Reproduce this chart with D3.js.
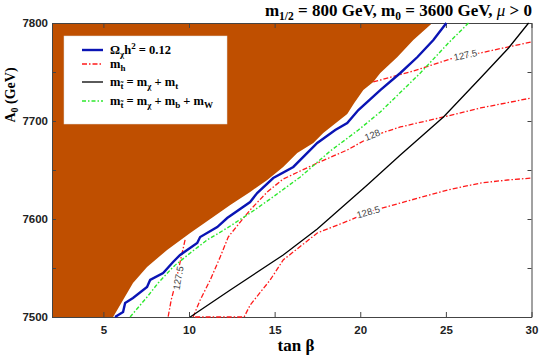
<!DOCTYPE html>
<html>
<head>
<meta charset="utf-8">
<script src="https://cdn.jsdelivr.net/npm/d3@7"></script>
<style>
  body { margin: 0; background: #fff; }
  svg { display: block; font-family: "Liberation Serif", "Times New Roman", serif; }
  .axis text { font-weight: bold; font-size: 11.5px; fill: #222; }
  .axis path, .axis line { stroke: #444; }
</style>
</head>
<body>
<script>
const width = 540, height = 357;
const margin = {left: 52, right: 8.5, top: 23, bottom: 40};

// tan beta, A0 pairs
const excludedEdge = [
  [5.57, 7500], [6.15, 7517.3], [6.73, 7534.7], [7.55, 7551], [8.72, 7568.4],
  [10.07, 7585.7], [11.41, 7602], [12.41, 7614.3], [13.57, 7627.6], [14.57, 7639.8],
  [15.50, 7653.1], [16.32, 7667.3], [17.26, 7677.6], [17.84, 7687.8], [19.24, 7707.1],
  [19.65, 7718.4], [20.18, 7731.6], [20.76, 7739.8], [21.17, 7749], [22.17, 7765.3],
  [23.10, 7782.7], [24.21, 7800]
];
const relic = [
  [5.68, 7500], [6.15, 7505.1], [6.27, 7514.3], [6.73, 7519.4], [7.55, 7530.6],
  [7.73, 7537.8], [8.49, 7544.9], [9.07, 7556.1], [9.48, 7563.3], [10.48, 7575.5],
  [10.65, 7581.6], [11.65, 7591.8], [12.23, 7601], [13.57, 7617.3], [13.98, 7626.5],
  [14.92, 7641.8], [16.09, 7653.1], [17.49, 7677.6], [18.54, 7690.8], [19.24, 7698],
  [19.89, 7711.2], [21.17, 7731.6], [22.34, 7749], [23.34, 7765.3], [24.27, 7782.7],
  [25.03, 7800]
];
const stopTop = [
  [10.07, 7500], [12.41, 7527.6], [15.50, 7563.3], [17.49, 7589.8], [20.41, 7634.7],
  [22.34, 7665.3], [24.86, 7704.1], [27.02, 7743.9], [28.66, 7774.5], [29.83, 7800]
];
const stopBW = [
  [6.56, 7500], [7.55, 7520.4], [8.20, 7534.7], [9.07, 7551], [10.07, 7565.3],
  [11.06, 7578.6], [12.23, 7590.8], [13.57, 7606.1], [14.74, 7620.4], [16.50, 7642.9],
  [18.25, 7669.4], [19.89, 7690.8], [21.17, 7709.2], [23.51, 7749], [25.15, 7779.6],
  [26.32, 7800]
];
const mh1275a = [
  [9.77, 7578.6], [9.48, 7556.1], [9.19, 7532.7], [8.96, 7517.3], [8.78, 7500]
];
const mh1275b = [
  [20.76, 7739.8], [23.10, 7751], [25.27, 7763.3], [27.02, 7769.4], [28.60, 7775.5], [30, 7780.6]
];
const mh128 = [
  [10.24, 7500], [10.65, 7517.3], [11.24, 7537.8], [11.82, 7561.2], [12.29, 7581.6],
  [12.99, 7596.9], [13.57, 7609.2], [14.57, 7627.6], [15.50, 7640.8], [17.49, 7657.1],
  [19.24, 7670.4], [20.71, 7684.7], [22.34, 7693.9], [24.86, 7704.1], [27.02, 7713.3],
  [30, 7723.5]
];
const mh1285 = [
  [10.36, 7500], [13.22, 7500], [13.57, 7512.2], [14.74, 7537.8], [15.50, 7558.2],
  [17.49, 7585.7], [19.42, 7599], [20.47, 7607.1], [22.34, 7616.3], [25.09, 7629.6],
  [27.02, 7636.7], [28.60, 7639.8], [30, 7641.8]
];
const contourLabels = [
  {text: '127.5', x: 26.14, y: 7767.3, angle: -12},
  {text: '128', x: 20.71, y: 7685.7, angle: -22},
  {text: '128.5', x: 20.47, y: 7607.1, angle: -16},
  {text: '127.5', x: 9.37, y: 7539.8, angle: -80}
];
const xTicks = [5, 10, 15, 20, 25, 30];
const yTicks = [7500, 7600, 7700, 7800];
const yMinor = [7550, 7650, 7750];

const x = d3.scaleLinear().domain([2, 30]).range([margin.left, width - margin.right]);
const y = d3.scaleLinear().domain([7500, 7800]).range([height - margin.bottom, margin.top]);

const svg = d3.select('body').append('svg').attr('width', width).attr('height', height);

svg.append('clipPath').attr('id', 'plotclip')
  .append('rect')
  .attr('x', x(2)).attr('y', y(7800) - 1)
  .attr('width', x(30) - x(2)).attr('height', y(7500) - y(7800) + 2);

const line = d3.line().x(d => x(d[0])).y(d => y(d[1]));

// excluded (brown) region, upper left
const region = [[2, 7500]].concat(excludedEdge, [[2, 7800]]);
svg.append('g').attr('clip-path', 'url(#plotclip)')
  .append('path')
  .attr('d', line(region) + 'Z')
  .attr('fill', '#bf4f00');

// axes
svg.append('g').attr('class', 'axis')
  .attr('transform', `translate(0,${y(7500)})`)
  .call(d3.axisBottom(x).tickValues(xTicks).tickSize(-5).tickPadding(9).tickSizeOuter(0));
svg.append('g').attr('class', 'axis')
  .attr('transform', `translate(0,${y(7800)})`)
  .call(d3.axisTop(x).tickValues(xTicks).tickSize(-5).tickFormat('').tickSizeOuter(0));
svg.append('g').attr('class', 'axis')
  .attr('transform', `translate(${x(2)},0)`)
  .call(d3.axisLeft(y).tickValues(yTicks.concat(yMinor)).tickSize(-4).tickPadding(4).tickSizeOuter(0)
    .tickFormat(d => yTicks.includes(d) ? d : ''));
svg.append('g').attr('class', 'axis')
  .attr('transform', `translate(${x(30)},0)`)
  .call(d3.axisRight(y).tickValues(yTicks.concat(yMinor)).tickSize(-4).tickFormat('').tickSizeOuter(0));

// contours drawn over the frame, like the original
const plot = svg.append('g').attr('clip-path', 'url(#plotclip)');

const red = {stroke: '#ff1a1a', width: 1.3, dash: '5,2,1.5,2'};
[mh1275a, mh1275b, mh128, mh1285].forEach(pts => {
  plot.append('path').attr('d', line(pts))
    .attr('fill', 'none').attr('stroke', red.stroke)
    .attr('stroke-width', red.width).attr('stroke-dasharray', red.dash);
});

plot.append('path').attr('d', line(stopTop))
  .attr('fill', 'none').attr('stroke', '#000').attr('stroke-width', 1.3);

plot.append('path').attr('d', line(stopBW))
  .attr('fill', 'none').attr('stroke', '#2ee82e').attr('stroke-width', 1.4)
  .attr('stroke-dasharray', '4,2,1.5,2');

plot.append('path').attr('d', line(relic))
  .attr('fill', 'none').attr('stroke', '#0a14b4').attr('stroke-width', 2.4);

// contour labels
plot.selectAll('text.clabel').data(contourLabels).enter().append('text')
  .attr('class', 'clabel')
  .attr('transform', d => `translate(${x(d.x)},${y(d.y)}) rotate(${d.angle})`)
  .attr('text-anchor', 'middle').attr('dy', '0.35em')
  .attr('font-family', 'Liberation Sans, Arial, sans-serif')
  .attr('font-size', 9.5).attr('fill', '#444')
  .attr('stroke', '#fff').attr('stroke-width', 3).attr('paint-order', 'stroke')
  .text(d => d.text);

// axis titles
svg.append('text')
  .attr('x', 296).attr('y', 351)
  .attr('text-anchor', 'middle')
  .attr('font-weight', 'bold').attr('font-size', 17)
  .text('tan β');

const yl = svg.append('text')
  .attr('transform', 'translate(15,95) rotate(-90)')
  .attr('text-anchor', 'middle')
  .attr('font-weight', 'bold').attr('font-size', 14);
yl.append('tspan').text('A');
yl.append('tspan').attr('font-size', 10).attr('dy', 3).text('0');
yl.append('tspan').attr('dy', -3).text(' (GeV)');

// title
const title = svg.append('text')
  .attr('x', 532).attr('y', 16)
  .attr('text-anchor', 'end')
  .attr('font-weight', 'bold').attr('font-size', 17);
title.append('tspan').text('m');
title.append('tspan').attr('font-size', 11.5).attr('dy', 4).text('1/2');
title.append('tspan').attr('dy', -4).text(' = 800 GeV, m');
title.append('tspan').attr('font-size', 11.5).attr('dy', 4).text('0');
title.append('tspan').attr('dy', -4).text(' = 3600 GeV, ');
title.append('tspan').attr('font-style', 'italic').attr('font-weight', 'normal').text('μ');
title.append('tspan').text(' > 0');

// legend
const legend = svg.append('g');
legend.append('rect')
  .attr('x', 64).attr('y', 36).attr('width', 163).attr('height', 88)
  .attr('fill', '#fff').attr('stroke', '#ddd').attr('stroke-width', 0.5);

const legendItems = [
  {y: 50, stroke: '#0a14b4', w: 2.4, dash: null,
    parts: [['Ω', 0], ['χ', 3, 9], ['h', -3], ['2', -5, 9], [' = 0.12', 5]]},
  {y: 64, stroke: '#ff1a1a', w: 1.3, dash: '5,2,1.5,2',
    parts: [['m', 0], ['h', 3, 9]]},
  {y: 82, stroke: '#000', w: 1.3, dash: null,
    parts: [['m', 0], ['t̃', 3, 9], [' = m', -3], ['χ', 3, 9], [' + m', -3], ['t', 3, 9]]},
  {y: 101, stroke: '#2ee82e', w: 1.4, dash: '4,2,1.5,2',
    parts: [['m', 0], ['t̃', 3, 9], [' = m', -3], ['χ', 3, 9], [' + m', -3], ['b', 3, 9], [' + m', -3], ['W', 3, 9]]}
];
legendItems.forEach(it => {
  legend.append('line')
    .attr('x1', 82).attr('x2', 103).attr('y1', it.y).attr('y2', it.y)
    .attr('stroke', it.stroke).attr('stroke-width', it.w)
    .attr('stroke-dasharray', it.dash);
  const t = legend.append('text')
    .attr('x', 110).attr('y', it.y + 4)
    .attr('font-weight', 'bold').attr('font-size', 12.5);
  it.parts.forEach(p => {
    const ts = t.append('tspan').attr('dy', p[1]).text(p[0]);
    if (p[2]) ts.attr('font-size', p[2]);
  });
});
</script>
</body>
</html>
